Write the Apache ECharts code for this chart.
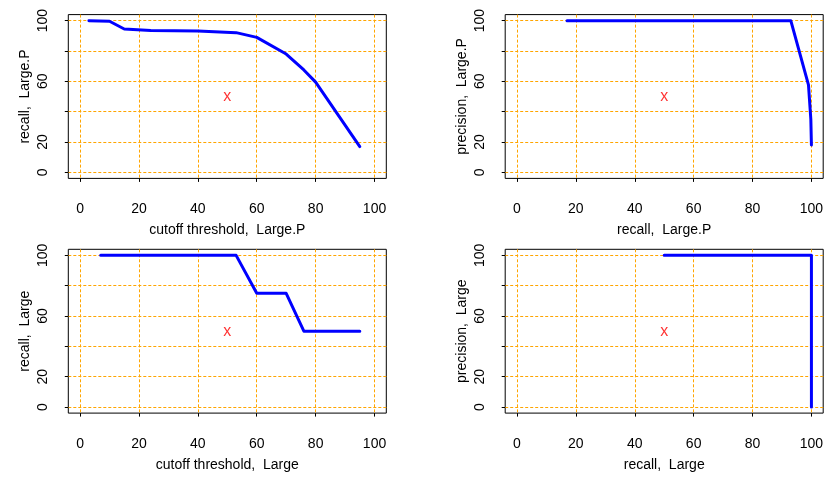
<!DOCTYPE html>
<html>
<head>
<meta charset="utf-8">
<script src="https://cdn.jsdelivr.net/npm/echarts@6/dist/echarts.min.js"></script>
<style>
html,body{margin:0;padding:0;background:#fff;}
#chart{width:828px;height:477px;}
</style>
</head>
<body>
<div id="chart"></div>
<script>
// Panel 1: cutoff threshold vs recall, Large.P
const thrLP = [3, 10, 15, 24, 40, 53, 60, 70, 76, 80, 95];
const recLP = [100, 99.6, 94.5, 93.5, 93.2, 92.1, 89, 78, 67.5, 59.5, 17];
// Panel 2: recall vs precision, Large.P
const prRecLP = [17, 93, 99, 99.8, 100];
const prPrecLP = [100, 100, 57.6, 35, 18];
// Panel 3: cutoff threshold vs recall, Large
const thrL = [7, 53, 60, 70, 76, 95];
const recL = [100, 100, 75, 75, 50, 50];
// Panel 4: recall vs precision, Large
const prRecL = [50, 100, 100];
const prPrecL = [100, 100, 0];
// red marker
const markerX = [50];
const markerY = [50];
const markerText = 'x';
// ticks / labels
const xTicks = [0, 20, 40, 60, 80, 100];
const yTicks = [0, 20, 40, 60, 80, 100];
const yLabels = [0, 20, 60, 100];

const xNames = ['cutoff threshold,  Large.P', 'recall,  Large.P', 'cutoff threshold,  Large', 'recall,  Large'];
const yNames = ['recall,  Large.P', 'precision,  Large.P', 'recall,  Large', 'precision,  Large'];
const panelX = [thrLP, prRecLP, thrL, prRecL];
const panelY = [recLP, prPrecLP, recL, prPrecL];

const FONT = "'Liberation Sans', Arial, Helvetica, sans-serif";
const ORANGE = '#FFA500';

const gridPos = [
  {left: 68.3, top: 14.6, width: 318, height: 163.8},
  {left: 505.2, top: 14.6, width: 318, height: 163.8},
  {left: 68.3, top: 249.3, width: 318, height: 163.8},
  {left: 505.2, top: 249.3, width: 318, height: 163.8}
];

const grids = [], xAxes = [], yAxes = [], series = [];
for (let i = 0; i < 4; i++) {
  grids.push(Object.assign({show: true, borderColor: '#000', borderWidth: 1, backgroundColor: 'transparent', containLabel: false}, gridPos[i]));
  xAxes.push({
    type: 'value', gridIndex: i, min: -4, max: 104,
    name: xNames[i], nameLocation: 'middle', nameGap: 45,
    nameTextStyle: {fontFamily: FONT, fontSize: 14, color: '#000'},
    axisLine: {show: false, onZero: false},
    axisTick: {show: true, inside: false, length: 3.5, customValues: xTicks, lineStyle: {color: '#000', width: 1}},
    axisLabel: {show: true, customValues: xTicks, margin: 24, fontFamily: FONT, fontSize: 14, color: '#000'},
    splitLine: {show: true, lineStyle: {color: ORANGE, width: 1, type: [3, 2]}}
  });
  yAxes.push({
    type: 'value', gridIndex: i, min: -4, max: 104,
    name: yNames[i], nameLocation: 'middle', nameGap: 36,
    nameTextStyle: {fontFamily: FONT, fontSize: 14, color: '#000'},
    axisLine: {show: false, onZero: false},
    axisTick: {show: true, inside: false, length: 3.5, customValues: yTicks, lineStyle: {color: '#000', width: 1}},
    axisLabel: {show: true, customValues: yLabels, rotate: 90, margin: 18, fontFamily: FONT, fontSize: 14, color: '#000'},
    splitLine: {show: true, lineStyle: {color: ORANGE, width: 1, type: [3, 2]}}
  });
  series.push({
    type: 'line', xAxisIndex: i, yAxisIndex: i,
    data: panelX[i].map((x, k) => [x, panelY[i][k]]),
    showSymbol: false, symbol: 'none', smooth: false,
    lineStyle: {color: '#0000FF', width: 3, cap: 'round', join: 'round'},
    z: 5
  });
  series.push({
    type: 'scatter', xAxisIndex: i, yAxisIndex: i,
    data: markerX.map((x, k) => [x, markerY[k]]),
    symbol: 'circle', symbolSize: 0,
    itemStyle: {color: 'rgba(0,0,0,0)'},
    label: {show: true, position: 'inside', formatter: markerText, color: '#FF0000', fontFamily: FONT, fontSize: 16},
    z: 6
  });
}

const chart = echarts.init(document.getElementById('chart'), null, {renderer: 'canvas'});
chart.setOption({
  animation: false,
  backgroundColor: '#fff',
  grid: grids,
  xAxis: xAxes,
  yAxis: yAxes,
  series: series
});
</script>
</body>
</html>
